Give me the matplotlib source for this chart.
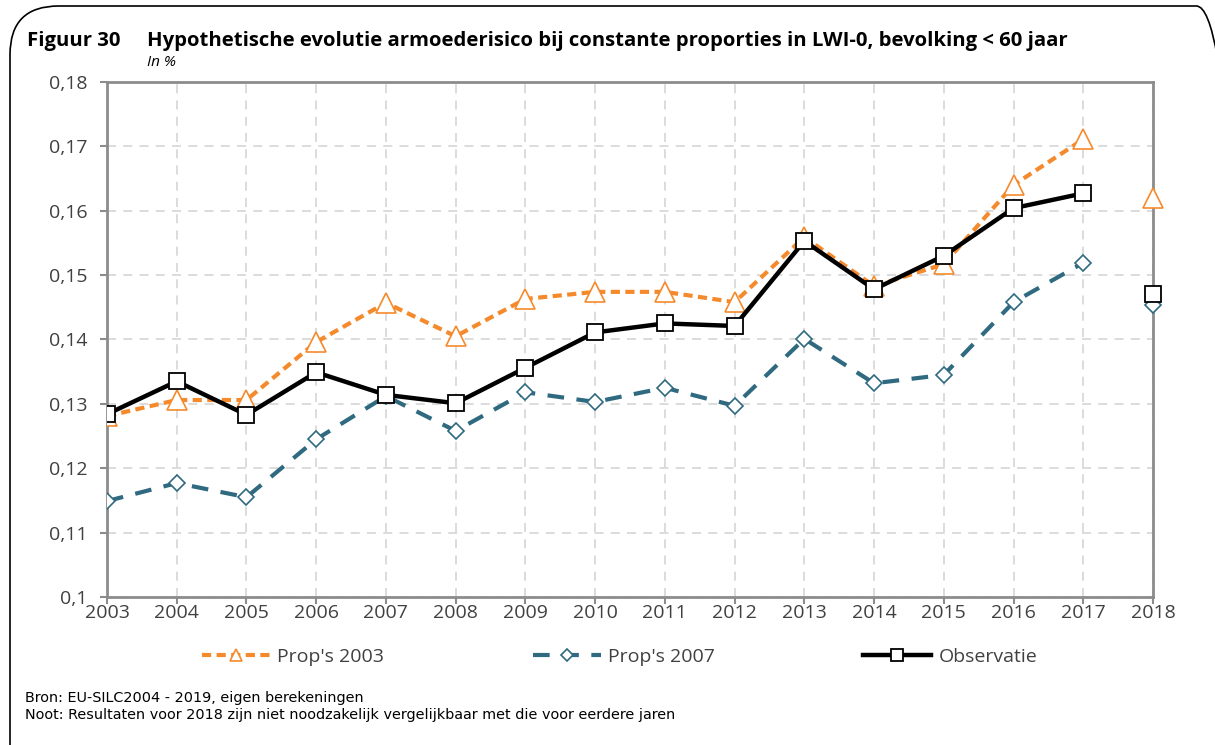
import matplotlib
matplotlib.use("Agg")
import matplotlib.pyplot as plt
from matplotlib.patches import FancyBboxPatch
from matplotlib.ticker import FuncFormatter

years = list(range(2003, 2019))
prop2003 = [0.1281, 0.1306, 0.1306, 0.1396, 0.1457, 0.1405, 0.1463, 0.1474,
            0.1474, 0.1458, 0.1559, 0.1483, 0.1517, 0.1640, 0.1711, 0.1620]
prop2007 = [0.1149, 0.1177, 0.1155, 0.1245, 0.1312, 0.1258, 0.1318, 0.1303,
            0.1325, 0.1297, 0.1401, 0.1332, 0.1345, 0.1458, 0.1519, 0.1453]
observ = [0.1284, 0.1335, 0.1283, 0.1349, 0.1314, 0.1301, 0.1356, 0.1411,
          0.1425, 0.1421, 0.1553, 0.1478, 0.1530, 0.1604, 0.1627, 0.1470]
labels = ["Prop's 2003", "Prop's 2007", "Observatie"]
yticks = [0.10, 0.11, 0.12, 0.13, 0.14, 0.15, 0.16, 0.17, 0.18]

plt.rcParams['font.family'] = ['Open Sans', 'DejaVu Sans']

W, H = 1215, 745
fig = plt.figure(figsize=(W/100, H/100), dpi=100)

# rounded frame
frame = FancyBboxPatch((10/W, -0.2), (W+30)/W - 10/W, 1.2 - 6/H,
                       boxstyle="round,pad=0,rounding_size=0.04",
                       transform=fig.transFigure, fill=False, ec='black', lw=1.2,
                       mutation_aspect=W/H, clip_on=False)
fig.patches.append(frame)

ax = fig.add_axes([107/W, 1-597/H, (1153-107)/W, (597-82)/H])

orange = '#F58A2D'
teal = '#2F6A80'
n = len(years) - 1

ax.plot(years[:n], prop2003[:n], color=orange, lw=3, ls=(0, (2.2, 1.3)),
        marker='^', ms=14, mfc='white', mec=orange, mew=1.2, label=labels[0], zorder=3)
ax.plot(years[n:], prop2003[n:], ls='none', marker='^', ms=14, mfc='white',
        mec=orange, mew=1.2, zorder=3, clip_on=False)
ax.plot(years[:n], prop2007[:n], color=teal, lw=3, ls=(0, (4, 3)),
        marker='D', ms=8, mfc='white', mec=teal, mew=1.2, label=labels[1], zorder=3)
ax.plot(years[n:], prop2007[n:], ls='none', marker='D', ms=8, mfc='white',
        mec=teal, mew=1.2, zorder=3, clip_on=False)
ax.plot(years[:n], observ[:n], color='black', lw=3.2, marker='s', ms=11,
        mfc='white', mec='black', mew=1.3, label=labels[2], zorder=4)
ax.plot(years[n:], observ[n:], ls='none', marker='s', ms=11, mfc='white',
        mec='black', mew=1.3, zorder=4, clip_on=False)

ax.set_xlim(2003, 2018)
ax.set_ylim(0.10, 0.18)
ax.set_xticks(years)
ax.set_yticks(yticks)


def yfmt(v, p):
    s = '%.2f' % v
    if s.endswith('0'):
        s = s[:-1]
    return s.replace('.', ',')


ax.yaxis.set_major_formatter(FuncFormatter(yfmt))
ax.grid(True, color='#D9D9D9', ls=(0, (5, 4)), lw=1.3)
ax.set_axisbelow(True)
for s in ax.spines.values():
    s.set_color('#8C8C8C')
    s.set_linewidth(2)
ax.tick_params(axis='both', colors='#8C8C8C', width=1.5, length=5, labelcolor='#404040', labelsize=14)
ax.tick_params(axis='x', pad=0)
ax.tick_params(axis='y', pad=9)

leg = ax.legend(loc='upper center', bbox_to_anchor=(0.49, -0.065), ncol=3, frameon=False,
                fontsize=14, handlelength=3.5, columnspacing=7.66, handletextpad=0.35,
                labelcolor='#404040')
for h, ms in zip(leg.legend_handles, [8, 6, 9]):
    h.set_markersize(ms)

fig.text(27/W, 1-41/H, "Figuur 30", fontsize=14.6, fontweight='bold', va='center', ha='left')
fig.text(147/W, 1-41/H, "Hypothetische evolutie armoederisico bij constante proporties in LWI-0, bevolking < 60 jaar",
         fontsize=14.6, fontweight='bold', va='center', ha='left')
fig.text(147/W, 1-62/H, "In %", fontsize=11, style='italic', va='center', ha='left')
fig.text(25/W, 1-698/H, "Bron: EU-SILC2004 - 2019, eigen berekeningen", fontsize=10.4,
         family='DejaVu Sans', va='center', ha='left')
fig.text(25/W, 1-715/H, "Noot: Resultaten voor 2018 zijn niet noodzakelijk vergelijkbaar met die voor eerdere jaren",
         fontsize=10.4, family='DejaVu Sans', va='center', ha='left')

fig.savefig('out.png', dpi=100)
